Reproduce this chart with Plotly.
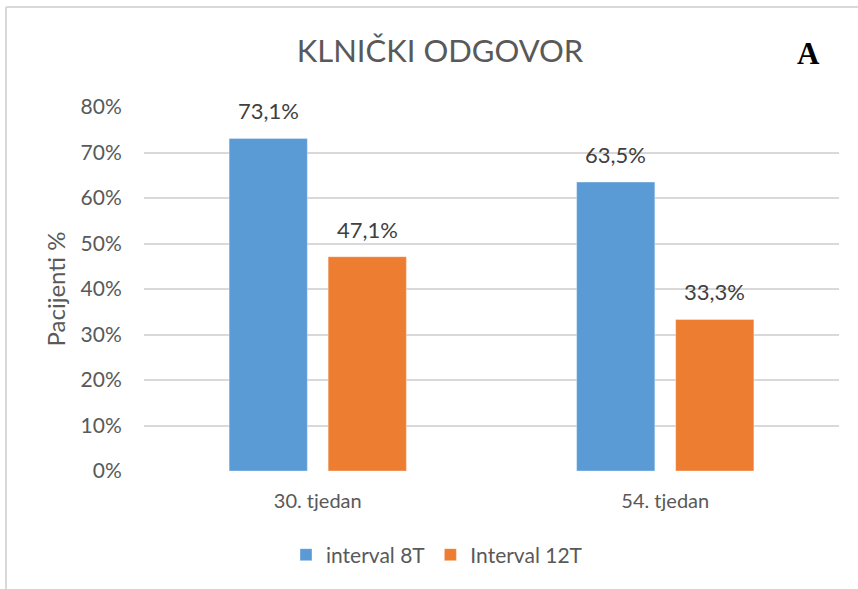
import plotly.graph_objects as go

categories = ["30. tjedan", "54. tjedan"]
series_names = ["interval 8T", "Interval 12T"]
values_8t = [73.1, 63.5]
values_12t = [47.1, 33.3]
y_ticks = [0, 10, 20, 30, 40, 50, 60, 70, 80]
y_tick_labels = ["0%", "10%", "20%", "30%", "40%", "50%", "60%", "70%", "80%"]
colors = ["#5B9BD5", "#ED7D31"]

FONT = "Lato"
W, H = 858, 589
L, R, T, B = 144, 19, 107, 118
pw, ph = W - L - R, H - T - B

def px_x(p):
    return (p - L) / pw

def px_y(p):
    return (H - B - p) / ph

def lab(v):
    return f"{v:.1f}%".replace(".", ",")

fig = go.Figure()
for name, vals, col in zip(series_names, [values_8t, values_12t], colors):
    fig.add_trace(go.Bar(
        x=categories, y=vals, name=name,
        marker=dict(color=col, line=dict(color="rgba(255,255,255,0.35)", width=1)),
    ))

slot = pw / 2 * (1 - 0.43) / 2
for i, vals in enumerate([values_8t, values_12t]):
    shift = -slot / 2 if i == 0 else slot / 2
    for c, v in zip(categories, vals):
        fig.add_annotation(x=c, y=v, xref="x", yref="y", text=lab(v), showarrow=False,
                           xshift=shift, yshift=12, yanchor="bottom",
                           font=dict(family=FONT, size=22, color="#404040"))

fig.add_annotation(x=px_x(808), y=px_y(53), xref="paper", yref="paper", text="<b>A</b>",
                   showarrow=False, xanchor="center", yanchor="middle",
                   font=dict(family="Liberation Serif", size=31, color="#000000"))

# chart border (left and top)
border = dict(color="#d9d9d9", width=2)
fig.add_shape(type="line", xref="paper", yref="paper", x0=px_x(6), x1=px_x(W + 5),
              y0=px_y(7), y1=px_y(7), line=border)
fig.add_shape(type="line", xref="paper", yref="paper", x0=px_x(6), x1=px_x(6),
              y0=px_y(7), y1=px_y(H + 5), line=border)

fig.update_layout(
    width=W, height=H,
    margin=dict(l=L, r=R, t=T, b=B, autoexpand=False),
    paper_bgcolor="white", plot_bgcolor="white",
    barmode="group", bargap=0.43, bargroupgap=0.21,
    title=dict(text="KLNIČKI ODGOVOR", x=440 / W, xref="container", xanchor="center",
               y=1 - 51 / H, yref="container", yanchor="middle",
               font=dict(family=FONT, size=31, color="#595959")),
    font=dict(family=FONT, color="#595959"),
    showlegend=True,
    legend=dict(orientation="h", x=px_x(437), xanchor="center", y=px_y(555), yanchor="middle",
                font=dict(family=FONT, size=21, color="#595959"), itemwidth=30,
                traceorder="normal"),
    yaxis=dict(range=[0, 80], tickvals=y_ticks, ticktext=y_tick_labels, showgrid=True,
               gridcolor="#d9d9d9", gridwidth=1.5, zeroline=False, showline=False,
               ticks="outside", ticklen=17, tickcolor="rgba(0,0,0,0)",
               tickfont=dict(family=FONT, size=21, color="#595959"),
               title=dict(text="Pacijenti %", font=dict(family=FONT, size=24, color="#595959"),
                          standoff=8)),
    xaxis=dict(showgrid=False, showline=False, ticks="outside", ticklen=12,
               tickcolor="rgba(0,0,0,0)",
               tickfont=dict(family=FONT, size=20, color="#595959")),
)

fig.write_html("out.html", config={"displayModeBar": False},
               post_script="document.body.style.margin='0';")
